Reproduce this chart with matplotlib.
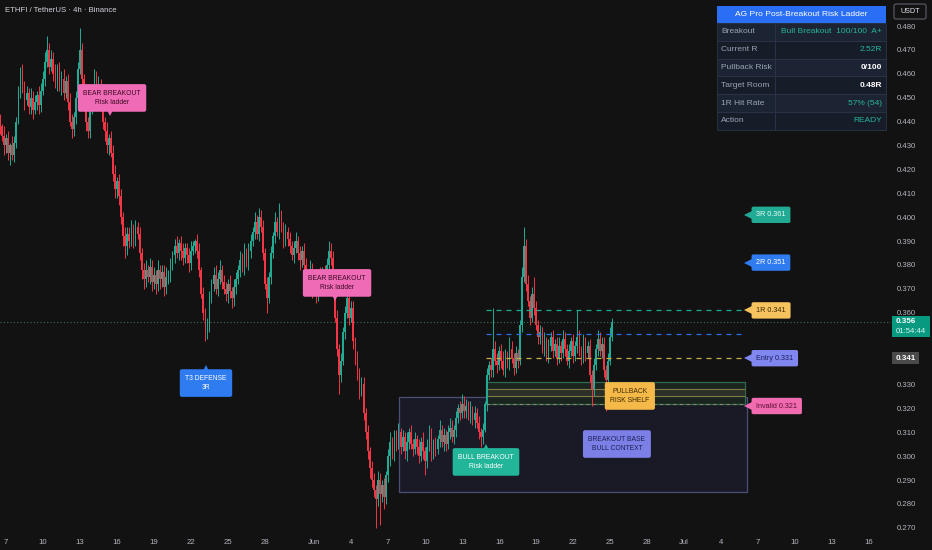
import matplotlib
matplotlib.use('Agg')
import matplotlib.pyplot as plt
from matplotlib.patches import Rectangle, FancyBboxPatch
from matplotlib.transforms import offset_copy
import numpy as np

plt.rcParams['font.family'] = ['Liberation Sans', 'DejaVu Sans']

TITLE = "ETHFI / TetherUS · 4h · Binance"

# closes in thousandths, grouped by stretches of the chart
close_segments = [
    [438, 434, 430, 433, 427, 430, 426, 431],
    [440, 452, 460],
    [455, 449, 452, 446, 450, 445, 448, 451, 447, 453],
    [458, 465, 470, 463, 466],
    [460, 456, 462, 455, 458, 452, 457],
    [448, 440, 437, 442, 450],
    [462, 470],
    [458, 450, 440, 436],
    [445, 452, 458, 450, 455, 447],
    [440, 436, 430, 433, 427],
    [418, 412, 415, 409],
    [400, 392, 388, 393],
    [390, 395, 391, 396, 393],
    [385, 378],
    [374, 378, 375, 379, 373],
    [376, 372, 378, 374, 377, 371, 375, 376],
    [380, 384, 388, 385, 389, 386, 383, 387, 384, 381, 386, 388, 390, 386],
    [378, 368, 360, 352, 355],
    [366, 372, 376, 370, 374, 378, 373, 370],
    [368, 372, 369, 366, 371],
    [374, 378, 382, 379, 385, 381, 386],
    [390, 394, 398, 393, 400, 396],
    [385, 372, 366, 375],
    [385, 392, 398, 394, 400, 396, 390, 394, 391],
    [388, 384, 387, 390, 385, 382, 386, 380],
    [376, 372, 378, 370, 374, 368, 375, 372, 377, 371],
    [380, 386, 383],
    [372, 358, 345, 334],
    [340, 352, 360, 366, 358, 362],
    [348, 340, 335, 328, 330],
    [318, 310, 302, 295, 290],
    [286, 282, 290, 284, 288, 283, 292],
    [300, 306, 302, 308],
    [305, 310, 304, 308, 302, 306, 310, 305, 303, 307, 304],
    [300, 306, 302, 298, 304, 309, 301, 305],
    [303, 307, 311, 306, 309, 305, 310, 312, 308, 311],
    [316, 320, 318, 322, 319],
    [321, 317, 319, 315, 318, 314],
    [310, 308, 311],
    [322, 334, 338, 336],
    [345, 340],
    [338, 344, 340, 336, 342, 339, 345, 341, 337, 343, 340],
    [355, 375, 388],
    [372, 365, 358, 368, 362, 355, 350],
    [352, 345, 348, 342, 346, 350],
    [344, 347, 341, 346, 343, 349, 345, 340, 344, 348, 342, 346, 350, 344, 341, 347, 343, 346],
    [334, 328],
    [338, 345, 349, 344, 347],
    [336, 332],
    [340, 350, 356],
]
# upper / lower wick lengths in thousandths (base-36 digits), per segment
upper_wick_segments = [
    "31423143", "233", "4232433243", "34634", "3423342", "34323", "39", "3232",
    "324343", "32423", "3423", "3243", "34232", "32", "34243", "32423342",
    "32342332234213", "31323", "32343423", "32423", "3243423", "324343", "3232",
    "324263232", "32342323", "3243232423", "343", "3232", "323443", "32423",
    "32323", "3243232", "3423", "34232423232", "32423432", "3242323432", "32343",
    "324232", "323", "1323", "h3", "32343253232", "248", "3423732", "324232",
    "323424323232b32432", "32", "32433", "32", "342",
]
lower_wick_segments = [
    "32433523", "212", "3423342343", "23232", "3232432", "32433", "12", "3243",
    "323232", "34342", "3444", "3454", "32432", "34", "43234", "34343433",
    "32323432343233", "32343", "32323232", "34343", "3232323", "323232", "3262",
    "323232323", "32323432", "3234343233", "323", "3238", "323232", "32343",
    "33343", "3c3d353", "3434", "32323432323", "32363232", "3232432323", "32323",
    "323232", "343", "1323", "32", "32323232323", "232", "3232323", "323232",
    "323232323232323232", "37", "32323", "3d", "322",
]

x_tick_days = [0, 3, 6, 9, 12, 15, 18, 21, 25, 28, 31, 34, 37, 40, 43, 46, 49,
               52, 55, 58, 61, 64, 67, 70]
x_tick_labels = ['7', '10', '13', '16', '19', '22', '25', '28', 'Jun', '4', '7', '10',
                 '13', '16', '19', '22', '25', '28', 'Jul', '4', '7', '10', '13', '16']
# 0.340 and 0.350 are hidden under the price boxes
y_ticks = [0.27, 0.28, 0.29, 0.30, 0.31, 0.32, 0.33, 0.36, 0.37, 0.38, 0.39, 0.40,
           0.41, 0.42, 0.43, 0.44, 0.45, 0.46, 0.47, 0.48]

last_price = 0.356
countdown = "01:54:44"
marked_price = 0.341

level_lines = [0.361, 0.351, 0.341]
level_colors = ['#22ab94', '#2f6fe0', '#c9b24a']
tag_texts = ['3R 0.361', '2R 0.351', '1R 0.341', 'Entry 0.331', 'Invalid 0.321']
tag_prices = [0.401, 0.381, 0.361, 0.341, 0.321]
tag_bg = ['#22ab94', '#2f7bf0', '#f7c35f', '#8187f0', '#f06bb0']
tag_fg = ['#e8fbf6', '#ffffff', '#3a2a00', '#1b1f5c', '#5a0f35']

shelf_top, shelf_mid_hi, shelf_mid_lo, shelf_bot = 0.331, 0.328, 0.325, 0.322
base_top, base_bot = 0.3249, 0.285

table_title = "AG Pro Post-Breakout Risk Ladder"
table_keys = ["Breakout", "Current R", "Pullback Risk", "Target Room", "1R Hit Rate", "Action"]
table_vals = ["Bull Breakout  100/100  A+", "2.52R", "0/100", "0.48R", "57% (54)", "READY"]
table_val_colors = ['#26b59c', '#26b59c', '#ffffff', '#ffffff', '#26b59c', '#26b59c']
table_val_bold = [False, False, True, True, False, False]

# ---------------------------------------------------------------- data prep
closes, ups, dns = [], [], []
for seg, u, d in zip(close_segments, upper_wick_segments, lower_wick_segments):
    for k, c in enumerate(seg):
        closes.append(c / 1000.0)
        ups.append(int(u[k], 36) / 1000.0 if k < len(u) else 0.003)
        dns.append(int(d[k], 36) / 1000.0 if k < len(d) else 0.003)
closes = np.array(closes)
opens = np.concatenate([[closes[0] + 0.002], closes[:-1]])
highs = np.maximum(opens, closes) + np.array(ups)
lows = np.minimum(opens, closes) - np.array(dns)
N = len(closes)
xs = 49 + 1 / 6 - (N - 1 - np.arange(N)) / 6.0

BG = '#121212'
GREEN = '#22ab94'
RED = '#f23645'
TXT = '#b2b5be'

fig = plt.figure(figsize=(9.32, 5.5), dpi=100, facecolor=BG)
ax = fig.add_axes([0, 18 / 550, 891 / 932, 532 / 550])
ax.set_facecolor(BG)
ax.set_xlim(-0.487, 71.78)
ax.set_ylim(0.26828, 0.49088)
for s in ax.spines.values():
    s.set_visible(False)

up = closes >= opens
cols = np.where(up, GREEN, RED)
ax.vlines(xs, lows, highs, colors=cols, linewidth=0.7, zorder=3)
body_lo = np.minimum(opens, closes)
body_h = np.maximum(np.abs(closes - opens), 0.0004)
ax.bar(xs, body_h, bottom=body_lo, width=0.13, color=cols, linewidth=0, zorder=4)

# breakout base box
ax.add_patch(Rectangle((31.87, base_bot), 60.1 - 31.87, base_top - base_bot,
                       facecolor='#191a26', edgecolor='#4b4f78', linewidth=0.9, zorder=1))
# pullback shelf
ax.add_patch(Rectangle((38.93, shelf_bot), 59.94 - 38.93, shelf_top - shelf_bot,
                       facecolor='#1b2520', edgecolor='#2f6b4f', linewidth=0.9, zorder=2))
ax.add_patch(Rectangle((38.93, shelf_mid_lo), 59.94 - 38.93, shelf_mid_hi - shelf_mid_lo,
                       facecolor='#2c2f27', edgecolor='none', zorder=2))
ax.hlines([shelf_mid_hi, shelf_mid_lo], 38.93, 59.94, colors='#7f7a45', linewidth=0.8, zorder=2)
ax.hlines([shelf_bot], 38.93, 59.94, colors='#8a8a60', linewidth=0.8, linestyles=(0, (3, 3)), zorder=2)

# level lines
for lv, c in zip(level_lines, level_colors):
    ax.hlines(lv, 38.93, 59.77, colors=c, linewidth=0.9, linestyles=(0, (4, 4)), zorder=5)
# last price dotted line
ax.axhline(last_price, color='#3f6f66', linewidth=0.8, linestyle=(0, (1, 2)), zorder=2)

# tags on right of levels
for t, p, bg, fg in zip(tag_texts, tag_prices, tag_bg, tag_fg):
    ax.text(60.85, p, t, ha='left', va='center', fontsize=5.2, color=fg, zorder=8,
            bbox=dict(boxstyle='round,pad=0.65,rounding_size=0.25', facecolor=bg, edgecolor='none'))
    ax.plot([60.3], [p], marker='<', markersize=7, color=bg, markeredgewidth=0, zorder=7)


def callout(xd, yp, text, bg, fg, pointer):
    ax.text(xd, yp, text, ha='center', va='center', fontsize=4.9, color=fg, zorder=9,
            linespacing=1.55,
            bbox=dict(boxstyle='round,pad=0.8,rounding_size=0.3', facecolor=bg, edgecolor='none'))
    if pointer == 'down':
        tr = offset_copy(ax.transData, fig=fig, x=-2, y=-14, units='dots')
        ax.plot([xd], [yp], marker='v', markersize=5.5, color=bg, markeredgewidth=0,
                transform=tr, zorder=9)
    elif pointer == 'up':
        tr = offset_copy(ax.transData, fig=fig, x=0, y=14, units='dots')
        ax.plot([xd], [yp], marker='^', markersize=5.5, color=bg, markeredgewidth=0,
                transform=tr, zorder=9)


callout(8.6, 0.4499, "BEAR BREAKOUT\nRisk ladder", '#f06bb5', '#3b0a25', 'down')
callout(26.85, 0.3725, "BEAR BREAKOUT\nRisk ladder", '#f06bb5', '#3b0a25', 'down')
callout(16.22, 0.3306, "T3 DEFENSE\n3R", '#2f7bf0', '#ffffff', 'up')
callout(38.93, 0.2976, "BULL BREAKOUT\nRisk ladder", '#22b59a', '#ffffff', 'up')
callout(50.6, 0.3252, "PULLBACK\nRISK SHELF", '#f5b94a', '#3d2a00', None)
callout(49.55, 0.3051, "BREAKOUT BASE\nBULL CONTEXT", '#7c80e6', '#1c1f55', None)

# axes ticks
ax.set_xticks(x_tick_days)
ax.set_xticklabels(x_tick_labels)
ax.set_yticks(y_ticks)
ax.set_yticklabels([f"{v:.3f}" for v in y_ticks])
ax.yaxis.tick_right()
ax.tick_params(axis='both', length=0, colors=TXT, labelsize=5.6)
ax.tick_params(axis='y', pad=4)
ax.tick_params(axis='x', pad=5)

# ----------------------------------------------------------- overlay (pixels)
ov = fig.add_axes([0, 0, 1, 1], zorder=20)
ov.set_xlim(0, 932)
ov.set_ylim(550, 0)
ov.axis('off')
ov.patch.set_alpha(0)

ov.text(5, 11, TITLE, ha='left', va='center', fontsize=5.6, color='#d1d4dc')

# USDT box
ov.add_patch(FancyBboxPatch((894, 4), 32, 15, boxstyle='round,pad=0,rounding_size=2',
                            facecolor=BG, edgecolor='#5d606b', linewidth=0.8))
ov.text(910, 11.5, "USDT", ha='center', va='center', fontsize=5.2, color='#e0e3eb')

# last price box
ov.add_patch(Rectangle((892, 316), 38, 21, facecolor='#089981', edgecolor='none'))
ov.text(896, 321.5, f"{last_price:.3f}", ha='left', va='center', fontsize=5.8,
        color='#ffffff', fontweight='bold')
ov.text(896, 331.5, countdown, ha='left', va='center', fontsize=5.6, color='#d8f5ef')
ov.add_patch(Rectangle((892, 352), 27, 12, facecolor='#4a4a4a', edgecolor='none'))
ov.text(896, 358, f"{marked_price:.3f}", ha='left', va='center', fontsize=5.8,
        color='#ffffff', fontweight='bold')

# table
tx0, tx1, tsplit = 717, 886, 775
ov.add_patch(Rectangle((tx0, 6), tx1 - tx0, 17, facecolor='#2a6ef5', edgecolor='none'))
ov.text((tx0 + tx1) / 2, 14.5, table_title, ha='center', va='center', fontsize=6.1, color='#ffffff')
row_h = 17.8
for r, (k, v, vc, vb) in enumerate(zip(table_keys, table_vals, table_val_colors, table_val_bold)):
    y0 = 23 + r * row_h
    bgc = '#1c2433' if r % 2 == 0 else '#161d29'
    ov.add_patch(Rectangle((tx0, y0), tsplit - tx0, row_h, facecolor=bgc, edgecolor='#2b3548', linewidth=0.6))
    ov.add_patch(Rectangle((tsplit, y0), tx1 - tsplit, row_h, facecolor=bgc, edgecolor='#2b3548', linewidth=0.6))
    ov.text(tx0 + 4, y0 + row_h / 2, k, ha='left', va='center', fontsize=6.0, color='#9aa4b5')
    ov.text(tx1 - 4, y0 + row_h / 2, v, ha='right', va='center', fontsize=6.0, color=vc,
            fontweight='bold' if vb else 'normal')

fig.savefig('out.png', dpi=100, facecolor=BG)
